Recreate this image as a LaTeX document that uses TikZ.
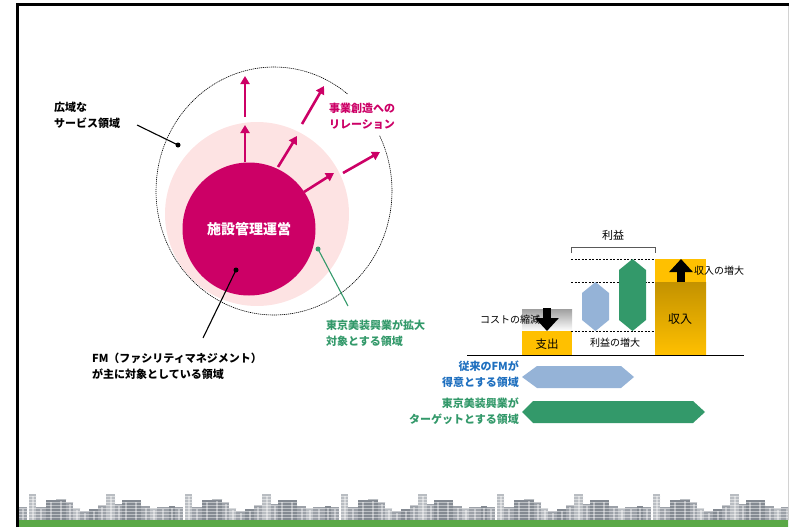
\documentclass[tikz,border=0pt]{standalone}
\usepackage{fontspec}
\setmainfont{Noto Sans CJK JP}
\usepackage{tikz}
\usetikzlibrary{arrows.meta, patterns, positioning}

\definecolor{fmmagenta}{HTML}{CC0066}
\definecolor{fmpink}{HTML}{FDE3E3}
\definecolor{tbgreen}{HTML}{33996A}
\definecolor{fmblue}{HTML}{1E6FBF}
\definecolor{hexblue}{HTML}{95B3D7}
\definecolor{baryellow}{HTML}{FFC000}
\definecolor{bargold}{HTML}{C39200}
\definecolor{sky0}{HTML}{B9BDC2}
\definecolor{sky1}{HTML}{9CA1A8}
\definecolor{sky2}{HTML}{848A92}
\definecolor{lawn}{HTML}{5AA846}

\tikzstyle{core} = [circle, fill=fmmagenta, minimum size=133pt, inner sep=0pt, text=white, font=\fontsize{14}{16}\selectfont\bfseries]
\tikzstyle{ring} = [line width=0.6pt, dash pattern=on 1.2pt off 0.8pt]
\tikzstyle{growarrow} = [line width=2.6pt, fmmagenta, -{Triangle[length=8pt,width=9pt]}]
\tikzstyle{pointer} = [line width=1.1pt]
\tikzstyle{note} = [inner sep=0pt, align=left, font=\fontsize{11}{16}\selectfont\bfseries]
\tikzstyle{small} = [inner sep=0pt, font=\fontsize{10}{12}\selectfont]
\tikzstyle{profitline} = [line width=0.6pt, dash pattern=on 2pt off 1.5pt]
\tikzstyle{blockarrow} = [line width=8pt, -{Triangle[length=13pt,width=23pt]}]

% buildings: offset / width / top / shade
\def\blocks{0/8/507/1, 10/7/494/0, 17/10/507/1, 27/10/500/2, 37/10/499/2, 47/7/502/1, 54/7/508/0, 61/9/511/1, 70/9/509/2, 79/8/505/1, 87/9/494/0, 96/7/504/1, 103/8/500/2, 111/11/500/2, 122/9/506/1, 131/7/508/0, 138/12/507/1, 150/6/506/2}

\begin{document}
\begin{tikzpicture}[x=1pt, y=-1pt]
  \useasboundingbox (0,0) rectangle (789,527);

  % frame
  \draw[line width=2.6pt] (17.5,527) -- (17.5,4.5) -- (789,4.5);
  \draw[gray!35, line width=0.6pt] (788,6) -- (788,520);

  % service rings
  \fill[fmpink] (257,214) circle (92pt);
  \coordinate (ringc) at (274,191);
  \draw[ring] ([shift={(51.5:118pt and 124pt)}]ringc) arc[start angle=51.5, end angle=386.5, x radius=118pt, y radius=124pt];
  \node[core] (core) at (249,229) {施設管理運営};

  % growth arrows
  \coordinate (g1s) at (245,162);
  \coordinate (g1e) at (245,125);
  \coordinate (g2s) at (245,117);
  \coordinate (g2e) at (245,76);
  \coordinate (g3s) at (278,167);
  \coordinate (g3e) at (297,136);
  \coordinate (g4s) at (302,124);
  \coordinate (g4e) at (324,86);
  \coordinate (g5s) at (304,192);
  \coordinate (g5e) at (334,173);
  \coordinate (g6s) at (343,173);
  \coordinate (g6e) at (380,152);
  \foreach \i in {1,...,6}
    \draw[growarrow] (g\i s) -- (g\i e);

  \node[note, text=fmmagenta, anchor=west] (relay) at (329,116.5) {事業創造への\\リレーション};

  % pointers
  \node[note, anchor=west] (wide) at (54,115) {広域な\\サービス領域};
  \coordinate (widedot) at (178,145);
  \coordinate (widetail) at (137,125);
  \draw[pointer] (widetail) -- (widedot);
  \fill (widedot) circle (2.5pt);

  \node[note, anchor=west] (fm) at (92,366.5) {FM（ファシリティマネジメント）\\が主に対象としている領域};
  \coordinate (fmdot) at (236,270);
  \coordinate (fmtail) at (203,338);
  \draw[pointer] (fmtail) -- (fmdot);
  \fill (fmdot) circle (2.5pt);

  \node[note, text=tbgreen, anchor=west] (tbarea) at (326,333.5) {東京美装興業が拡大\\対象とする領域};
  \coordinate (tbdot) at (318,249);
  \coordinate (tbtail) at (348,306);
  \draw[pointer, tbgreen] (tbtail) -- (tbdot);
  \fill[tbgreen] (tbdot) circle (2.5pt);

  % profit chart
  \shade[top color=gray!75, bottom color=white] (522,309) rectangle (572,331);
  \fill[baryellow] (522,331) rectangle (572,355);
  \node[small, font=\fontsize{11.5}{12}\selectfont] (cost) at (547,344) {支出};
  \node[small] (cut) at (510,320) {コストの縮減};
  \coordinate (cuttop) at (547,308);
  \coordinate (cutend) at (547,331);
  \draw[blockarrow] (cuttop) -- (cutend);

  \fill[baryellow] (655,259) rectangle (706,282);
  \shade[top color=bargold, bottom color=baryellow] (655,282) rectangle (706,355);
  \node[small, font=\fontsize{12}{14}\selectfont] (income) at (680,319) {収入};
  \coordinate (uptail) at (681,282);
  \coordinate (uptop) at (681,259);
  \draw[blockarrow] (uptail) -- (uptop);
  \node[small, anchor=west] (rise) at (694,271) {収入の増大};

  \draw[profitline] (571,259) -- (655,259);
  \draw[profitline] (571,282) -- (655,282);
  \draw[profitline] (571,331) -- (655,331);

  \fill[hexblue] (595.5,282) -- (609,293) -- (609,320) -- (595.5,331) -- (582,320) -- (582,293) -- cycle;
  \fill[tbgreen] (632.5,259) -- (646,270) -- (646,320) -- (632.5,331) -- (619,320) -- (619,270) -- cycle;

  \draw[gray!70!black, line width=0.8pt] (571,253) -- (571,247) -- (655,247) -- (655,253);
  \node[small, font=\fontsize{11}{12}\selectfont] (profit) at (613,235) {利益};
  \node[small] (gain) at (615,343) {利益の増大};

  \draw[line width=0.9pt] (467,355) -- (744,355);

  % coverage bands
  \fill[hexblue] (522,377) -- (537,366) -- (621,366) -- (634,377) -- (621,388) -- (537,388) -- cycle;
  \node[note, text=fmblue, align=right, anchor=east] (oldfm) at (519,374.5) {従来のFMが\\得意とする領域};
  \fill[tbgreen] (522,412) -- (533,401) -- (693,401) -- (705,412) -- (693,423) -- (533,423) -- cycle;
  \node[note, text=tbgreen, align=right, anchor=east] (target) at (519,411) {東京美装興業が\\ターゲットとする領域};

  % skyline
  \begin{scope}
    \clip (19,480) rectangle (788,527);
    \foreach \p in {0,...,4}
      \foreach \dx/\w/\top/\s in \blocks {
        \fill[sky\s, postaction={pattern=horizontal lines, pattern color=sky\s!55!white}]
          ({19+156*\p+\dx},\top) rectangle ({19+156*\p+\dx+\w},520);
        \fill[white, opacity=0.4] ({19+156*\p+\dx+\w/2-1},{\top+2}) rectangle ({19+156*\p+\dx+\w/2+1},520);
      }
    \fill[lawn] (19,520) rectangle (789,527);
  \end{scope}
\end{tikzpicture}
\end{document}
